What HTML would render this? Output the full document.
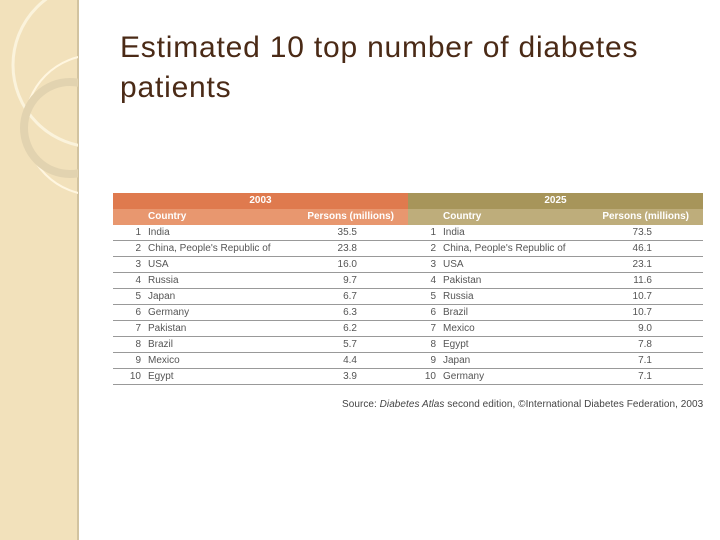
<!DOCTYPE html>
<html><head><meta charset="utf-8"><style>
body{margin:0;width:720px;height:540px;background:#fff;position:relative;overflow:hidden;font-family:"Liberation Sans",sans-serif}
.band{position:absolute;left:0;top:0;width:77px;height:540px;background:#f2e1bb;border-right:2px solid #d2c3a0}
.t{position:absolute;font-size:10px;color:#555;white-space:nowrap;line-height:16px}
.h{color:#fff;font-weight:bold}
.r{text-align:right}
.line{position:absolute;height:1px;background:#999}
</style></head><body>
<div class="band">
<svg width="78" height="540" style="position:absolute;left:0;top:0">
<circle cx="95" cy="65" r="82" fill="none" stroke="#fbf3dc" stroke-width="3"/>
<circle cx="95" cy="125" r="70" fill="none" stroke="#fff6e0" stroke-width="2"/>
<circle cx="70" cy="128" r="46" fill="none" stroke="#e2d3b0" stroke-width="8"/>
</svg></div>
<div style="position:absolute;left:120px;top:28px;font-size:30px;letter-spacing:0.8px;line-height:40px;color:#4a2a16">Estimated 10 top number of diabetes<br>patients</div>
<div id="tbl"></div>
<div class="t" style="left:342px;top:397px;font-size:10px;letter-spacing:0.05px;color:#444">Source: <i>Diabetes Atlas</i> second edition, ©International Diabetes Federation, 2003</div>
<script>
const countries2003=["India","China, People's Republic of","USA","Russia","Japan","Germany","Pakistan","Brazil","Mexico","Egypt"];
const values2003=["35.5","23.8","16.0","9.7","6.7","6.3","6.2","5.7","4.4","3.9"];
const countries2025=["India","China, People's Republic of","USA","Pakistan","Russia","Brazil","Mexico","Egypt","Japan","Germany"];
const values2025=["73.5","46.1","23.1","11.6","10.7","10.7","9.0","7.8","7.1","7.1"];
const tbl=document.getElementById('tbl');
function add(html,style,cls,name){const d=document.createElement('div');d.className=cls;d.style.cssText=style;d.textContent=html;


tbl.appendChild(d);return d;}
function half(x0,year,c1,c2,countries,values){
add('', `position:absolute;left:${x0}px;top:193px;width:295px;height:16px;background:${c1}`,'', 'year-header-bg');
add(year,`left:${x0}px;top:193px;width:295px;text-align:center`,'t h','year-header');
add('', `position:absolute;left:${x0}px;top:209px;width:295px;height:16px;background:${c2}`,'', 'column-header-bg');
add('Country',`left:${x0+35}px;top:209px`,'t h','country-header');
add('Persons (millions)',`left:${x0+185}px;top:209px;width:96px`,'t h r','persons-header');
countries.forEach((c,i)=>{const y=225+i*16;
add(String(i+1),`left:${x0}px;top:${y}px;width:28px`,'t r','rank');
add(c,`left:${x0+35}px;top:${y}px`,'t','country-name');
add(values[i],`left:${x0+180}px;top:${y}px;width:64px`,'t r','persons-value');
add('',`left:${x0}px;top:${y+15}px;width:295px`,'line','row-divider');});
}
half(113,'2003','#df7a4e','#e8976f',countries2003,values2003);
half(408,'2025','#a7955a','#bead7b',countries2025,values2025);
</script>
</body></html>
